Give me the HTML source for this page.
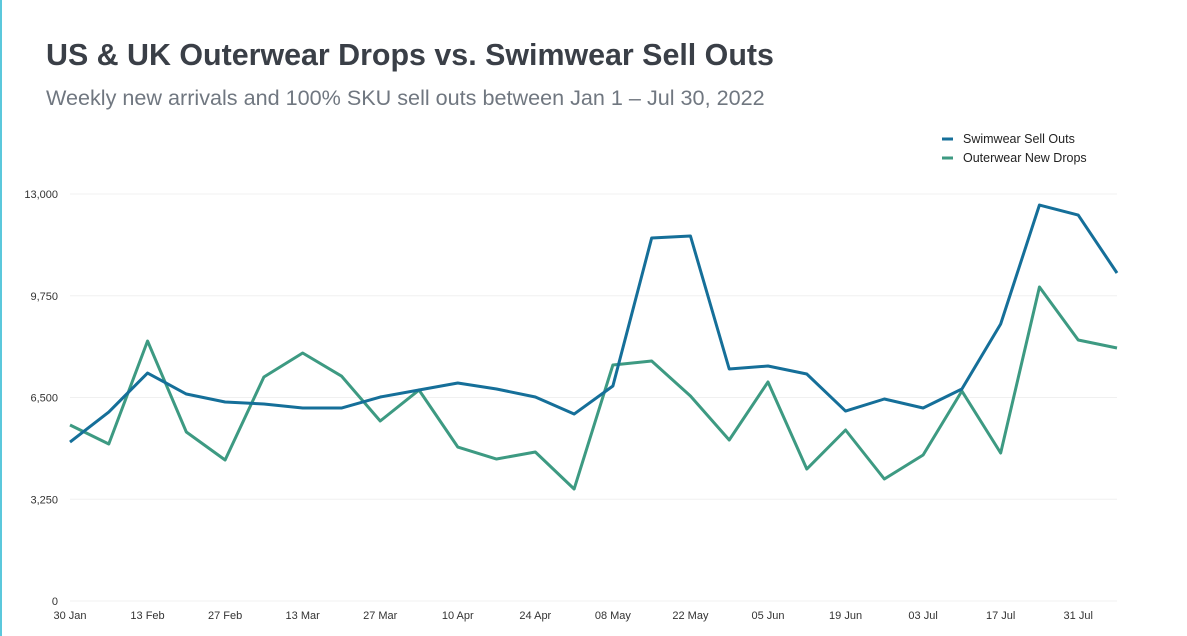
<!DOCTYPE html>
<html><head><meta charset="utf-8"><style>
body{margin:0;width:1187px;height:636px;background:#fff;font-family:"Liberation Sans",sans-serif;overflow:hidden;position:relative}
.lb{position:absolute;left:0;top:0;width:2px;height:636px;background:#5bc8dc}
h1{position:absolute;left:46px;top:38px;margin:0;font-size:30.4px;font-weight:bold;color:#3a3f47}
.sub{position:absolute;left:46px;top:85px;font-size:21.6px;color:#707780}
</style></head><body>
<div class="lb"></div>
<h1>US &amp; UK Outerwear Drops vs. Swimwear Sell Outs</h1>
<div class="sub">Weekly new arrivals and 100% SKU sell outs between Jan 1 – Jul 30, 2022</div>
<svg id="chart" width="1187" height="636" style="position:absolute;left:0;top:0"></svg>
<script>
const xLabels=["30 Jan","13 Feb","27 Feb","13 Mar","27 Mar","10 Apr","24 Apr","08 May","22 May","05 Jun","19 Jun","03 Jul","17 Jul","31 Jul"];
const yTicks=[0,3250,6500,9750,13000];
const swimwear=[5078,6036,7282,6611,6356,6292,6164,6164,6515,6739,6963,6771,6515,5972,6867,11594,11658,7410,7506,7250,6068,6452,6164,6771,8847,12648,12328,10476];
const outerwear=[5621,5014,8304,5398,4503,7154,7921,7186,5749,6739,4918,4535,4759,3577,7538,7665,6548,5142,6995,4216,5462,3897,4663,6707,4727,10029,8336,8081];
const NS="http://www.w3.org/2000/svg";
const svg=document.getElementById('chart');
const x=i=>70+i*(1117-70)/27;
const y=v=>601-v*(407/13000);
function mk(t,a){const e=document.createElementNS(NS,t);for(const k in a)e.setAttribute(k,a[k]);svg.appendChild(e);return e;}
yTicks.forEach(v=>{
  const g=mk('line',{x1:70,x2:1117,y1:y(v),y2:y(v),stroke:'#f0f0f0','stroke-width':1});
  
  
  const t=mk('text',{x:58,y:y(v)+4,'text-anchor':'end','font-size':11,fill:'#333','font-family':'Liberation Sans, sans-serif'});
  t.textContent=v.toLocaleString('en-US');
  
  
});
xLabels.forEach((l,i)=>{
  const t=mk('text',{x:x(i*2),y:619,'text-anchor':'middle','font-size':11,fill:'#333','font-family':'Liberation Sans, sans-serif'});
  t.textContent=l;
  
  
});
function line(d,c,n){
  const p=mk('polyline',{points:d.map((v,i)=>x(i)+','+y(v)).join(' '),fill:'none',stroke:c,'stroke-width':3,'stroke-linejoin':'round'});
  
  
}
line(outerwear,'#3d9a82','outerwear-line');
line(swimwear,'#156f99','swimwear-line');
[['Swimwear Sell Outs','#156f99',139],['Outerwear New Drops','#3d9a82',158]].forEach(([l,c,yy])=>{
  const m=mk('line',{x1:942,x2:953,y1:yy,y2:yy,stroke:c,'stroke-width':3});
  
  
  const t=mk('text',{x:963,y:yy+4,'font-size':12.5,fill:'#222','font-family':'Liberation Sans, sans-serif'});
  t.textContent=l;
  
  
});
</script>
</body></html>
